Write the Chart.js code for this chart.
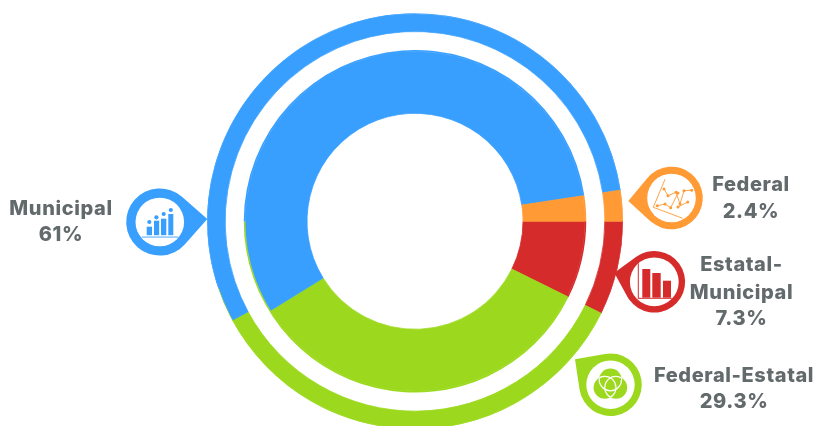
<!DOCTYPE html>
<html>
<head>
<meta charset="utf-8">
<title>Municipal, Federal, Estatal</title>
<script src="https://cdn.jsdelivr.net/npm/chart.js@4"></script>
<style>
  html, body { margin: 0; padding: 0; background: #fff; overflow: hidden; width: 818px; height: 426px; }
  canvas { display: block; }
</style>
</head>
<body>
<canvas id="ringChart" width="818" height="443"></canvas>
<script>
// clockwise from 3 o'clock
const categories = ['Estatal-Municipal', 'Federal-Estatal', 'Municipal', 'Federal'];
const colors = ['#d62b2b', '#9cd91e', '#389fff', '#ff9a35'];

// arc sizes (they differ a bit from the printed labels)
const outerRing = [7.3, 34.8, 55.5, 2.4];
const innerRing = [7.3, 33.9, 56.4, 2.4];
// thin green edge showing behind the blue on the outside of each ring
const outerRim = [7.3, 37.5, 52.8, 2.4];
const innerRim = [7.3, 42.7, 47.6, 2.4];

const callouts = [
    { lines: ['Federal', '2.4%'], x: 751, y: [191.3, 217.7] },
    { lines: ['Estatal-', 'Municipal', '7.3%'], x: 741.5, y: [271.3, 298.5, 325] },
    { lines: ['Federal-Estatal', '29.3%'], x: 734, y: [381.7, 408.3] },
    { lines: ['Municipal', '61%'], x: 61, y: [215, 240.7] }
];

function pin(ctx, cx, cy, r, tipX, tipY, hole, color) {
    const dx = tipX - cx;
    const dy = tipY - cy;
    const a = Math.atan2(dy, dx);
    const b = Math.acos(r / Math.hypot(dx, dy));
    ctx.fillStyle = color;
    ctx.beginPath();
    ctx.arc(cx, cy, r, a + b, a - b + Math.PI * 2);
    ctx.lineTo(tipX, tipY);
    ctx.closePath();
    ctx.fill();
    ctx.fillStyle = '#fff';
    ctx.beginPath();
    ctx.arc(cx, cy, hole, 0, Math.PI * 2);
    ctx.fill();
}

function polyline(ctx, pts) {
    ctx.beginPath();
    pts.forEach((p, i) => (i ? ctx.lineTo(p[0], p[1]) : ctx.moveTo(p[0], p[1])));
    ctx.stroke();
}

function dots(ctx, pts, r) {
    pts.forEach(p => {
        ctx.beginPath();
        ctx.arc(p[0], p[1], r, 0, Math.PI * 2);
        ctx.fill();
    });
}

function lineIcon(ctx, color) {
    const a = [[664, 189], [668, 195.7], [676, 192.3], [680, 204], [684, 190.7], [691.7, 190.3]];
    const b = [[657.3, 205.7], [665, 204], [670.7, 207.7], [678, 193]];
    const c = [[678, 207], [687.7, 202]];
    ctx.strokeStyle = color;
    ctx.fillStyle = color;
    ctx.lineWidth = 0.9;
    polyline(ctx, [[665, 179.3], [653.3, 207.3], [682.7, 218.3]]);
    polyline(ctx, a);
    polyline(ctx, b);
    polyline(ctx, c);
    dots(ctx, a.concat(b, c), 1.5);
}

function barIcon(ctx, color) {
    ctx.fillStyle = color;
    ctx.fillRect(642.3, 269, 8, 28.7);
    ctx.fillRect(652.3, 273, 8.4, 24.7);
    ctx.fillRect(663, 280.7, 8, 17);
    ctx.fillRect(637.8, 263.3, 1, 35);
    ctx.fillRect(637.8, 297.8, 34, 1);
}

function venn(ctx, color) {
    const r = 11.2;
    const circles = [[610.4, 379.6], [604.8, 387.6], [616, 387.6]];
    ctx.fillStyle = color;
    dots(ctx, circles, r);
    ctx.strokeStyle = '#fff';
    ctx.lineWidth = 1.2;
    // each outline only shows where it crosses the other two circles
    circles.forEach((p, i) => {
        ctx.save();
        ctx.beginPath();
        circles.forEach((q, j) => {
            if (j !== i) {
                ctx.moveTo(q[0] + r, q[1]);
                ctx.arc(q[0], q[1], r, 0, Math.PI * 2);
            }
        });
        ctx.clip();
        ctx.beginPath();
        ctx.arc(p[0], p[1], r, 0, Math.PI * 2);
        ctx.stroke();
        ctx.restore();
    });
}

function peopleIcon(ctx, color) {
    ctx.fillStyle = color;
    ctx.fillRect(146.7, 226.7, 5.3, 8.5);
    ctx.fillRect(154, 220.7, 5.2, 14.5);
    ctx.fillRect(161, 218.7, 5.3, 16.5);
    ctx.fillRect(168.3, 214, 5, 21.2);
    dots(ctx, [[149.3, 222], [156.4, 217.3], [163.7, 214], [170.8, 210]], 2.1);
    ctx.fillRect(141.7, 236.6, 36.6, 0.9);
}

const calloutPlugin = {
    id: 'callouts',
    afterDraw(chart) {
        const ctx = chart.ctx;
        ctx.save();
        pin(ctx, 671.5, 198, 31.3, 628.3, 201, 24.3, colors[3]);
        lineIcon(ctx, colors[3]);
        pin(ctx, 654.3, 281.8, 30.8, 614.3, 272.7, 24.4, colors[0]);
        barIcon(ctx, colors[0]);
        pin(ctx, 610.5, 384.7, 31.3, 575, 359.3, 24.2, colors[1]);
        venn(ctx, colors[1]);
        pin(ctx, 159.8, 222, 33.6, 207.3, 219, 24.3, colors[2]);
        peopleIcon(ctx, colors[2]);

        ctx.fillStyle = '#636a6c';
        ctx.font = '800 20px Inter';
        ctx.letterSpacing = '0.6px';
        ctx.textAlign = 'center';
        ctx.textBaseline = 'alphabetic';
        callouts.forEach(c => {
            c.lines.forEach((line, i) => ctx.fillText(line, c.x, c.y[i]));
        });
        ctx.restore();
    }
};

// the bands get a hairline in their own colour so no seam shows against the rim
function ring(data, weight, border) {
    return { data: data, weight: weight, backgroundColor: colors, borderColor: colors, borderWidth: border };
}

new Chart(document.getElementById('ringChart'), {
    type: 'doughnut',
    data: {
        labels: categories,
        datasets: [
            ring(outerRim, 0.5, 0),
            ring(outerRing, 17.5, 0.8),
            { data: [1], weight: 18.5, backgroundColor: 'rgba(0,0,0,0)', borderWidth: 0 },
            ring(innerRim, 1.5, 0),
            ring(innerRing, 61.5, 0.8)
        ]
    },
    options: {
        responsive: false,
        animation: false,
        rotation: 90,
        cutout: 108,
        layout: { padding: { top: 13.4, bottom: 13.8, left: 12, right: 0 } },
        plugins: {
            legend: { display: false },
            tooltip: { enabled: false }
        }
    },
    plugins: [calloutPlugin]
});
</script>
</body>
</html>
